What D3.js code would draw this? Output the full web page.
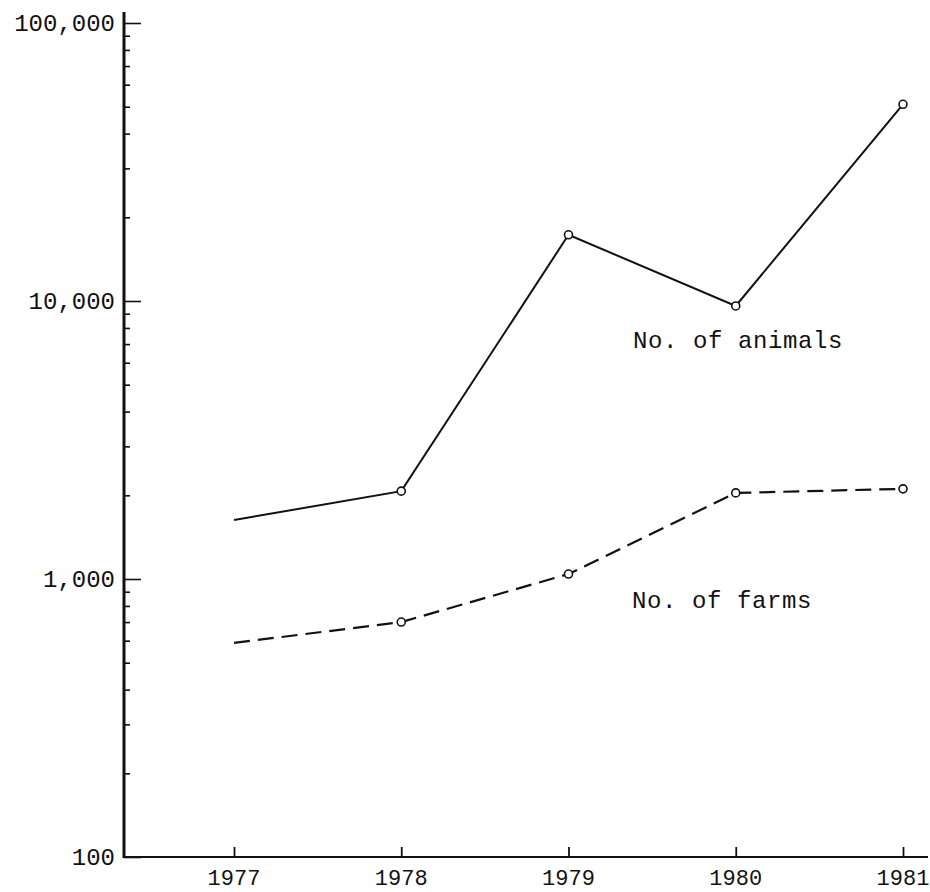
<!DOCTYPE html>
<html>
<head>
<meta charset="utf-8">
<script src="https://cdn.jsdelivr.net/npm/d3@7"></script>
<style>
  html, body { margin: 0; padding: 0; background: #fff; }
  svg { display: block; }
  text { font-family: "Liberation Mono", "DejaVu Sans Mono", monospace; fill: #111; }
</style>
</head>
<body>
<svg id="chart" width="930" height="892"></svg>
<script>
// ---- data ----
const years = [1977, 1978, 1979, 1980, 1981];
const animals = [1630, 2070, 17300, 9600, 51000];
const farms = [589, 700, 1042, 2040, 2110];
const yMajorTicks = [100, 1000, 10000, 100000];
const yTickLabels = ["100", "1,000", "10,000", "100,000"];
const xTickLabels = ["1977", "1978", "1979", "1980", "1981"];
const seriesLabels = ["No. of animals", "No. of farms"];

// ---- layout ----
const svg = d3.select("#chart");
const x = d3.scaleLinear().domain([1977, 1981]).range([234, 903]);
const y = d3.scaleLog().domain([100, 100000]).range([857, 23]);
const axisX = 124;
const axisY = 857;

// minor ticks
const minorTicks = [];
for (let p = 100; p < 100000; p *= 10) {
  for (let k = 2; k <= 9; k++) minorTicks.push(p * k);
}

// y axis: minor ticks (inward)
const gMinor = svg.append("g").attr("transform", `translate(${axisX},0)`)
  .call(d3.axisRight(y).tickValues(minorTicks).tickSize(6).tickFormat(""));
gMinor.select(".domain").remove();
gMinor.selectAll("line").attr("stroke", "#111").attr("stroke-width", 1.6);

// y axis: major ticks (inward)
const gMajor = svg.append("g").attr("transform", `translate(${axisX},0)`)
  .call(d3.axisRight(y).tickValues(yMajorTicks).tickSize(17).tickFormat(""));
gMajor.select(".domain").remove();
gMajor.selectAll("line").attr("stroke", "#111").attr("stroke-width", 1.6);

// y labels
svg.append("g").selectAll("text").data(yMajorTicks).join("text")
  .attr("x", 115)
  .attr("y", d => y(d))
  .attr("dy", "0.35em")
  .attr("text-anchor", "end")
  .attr("font-size", 24)
  .text((d, i) => yTickLabels[i]);

// x axis ticks (pointing up)
const gX = svg.append("g").attr("transform", `translate(0,${axisY})`)
  .call(d3.axisTop(x).tickValues(years).tickSize(10).tickFormat(""));
gX.select(".domain").remove();
gX.selectAll("line").attr("stroke", "#111").attr("stroke-width", 1.8);

// x labels
svg.append("g").selectAll("text").data(years).join("text")
  .attr("x", d => x(d))
  .attr("y", 885)
  .attr("text-anchor", "middle")
  .attr("font-size", 22)
  .text((d, i) => xTickLabels[i]);

// axis lines
svg.append("line")
  .attr("x1", axisX).attr("x2", axisX)
  .attr("y1", 12).attr("y2", axisY + 1)
  .attr("stroke", "#111").attr("stroke-width", 3);
svg.append("line")
  .attr("x1", axisX - 1).attr("x2", 928)
  .attr("y1", axisY).attr("y2", axisY)
  .attr("stroke", "#111").attr("stroke-width", 2.2);

// series lines
const line = d3.line().x(d => x(d[0])).y(d => y(d[1]));
const animalPts = years.map((yr, i) => [yr, animals[i]]);
const farmPts = years.map((yr, i) => [yr, farms[i]]);

svg.append("path").datum(animalPts)
  .attr("d", line)
  .attr("fill", "none").attr("stroke", "#111").attr("stroke-width", 2);

svg.append("path").datum(farmPts)
  .attr("d", line)
  .attr("fill", "none").attr("stroke", "#111").attr("stroke-width", 2.2)
  .attr("stroke-dasharray", "16,8");

// markers (none at 1977)
[animalPts, farmPts].forEach(pts => {
  svg.append("g").selectAll("circle").data(pts.slice(1)).join("circle")
    .attr("cx", d => x(d[0]))
    .attr("cy", d => y(d[1]))
    .attr("r", 4)
    .attr("fill", "#fff")
    .attr("stroke", "#111")
    .attr("stroke-width", 1.6);
});

// series labels
svg.append("text").attr("x", 633).attr("y", 348)
  .attr("font-size", 24).attr("letter-spacing", 0.6)
  .text(seriesLabels[0]);
svg.append("text").attr("x", 632).attr("y", 608)
  .attr("font-size", 24).attr("letter-spacing", 0.6)
  .text(seriesLabels[1]);
</script>
</body>
</html>
